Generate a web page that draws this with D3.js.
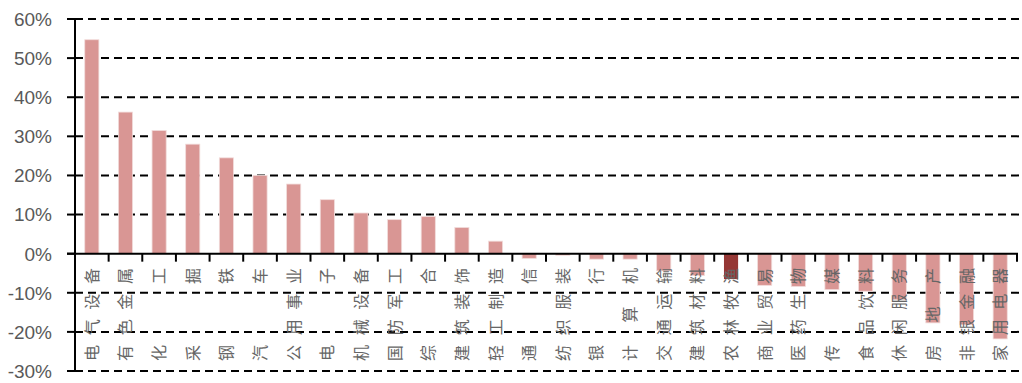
<!DOCTYPE html>
<html>
<head>
<meta charset="utf-8">
<script src="https://cdn.jsdelivr.net/npm/d3@7"></script>
<style>
  html, body { margin: 0; padding: 0; background: #fff; }
  #chart { width: 1022px; height: 383px; }
  .ytick { font-family: "Liberation Sans", Arial, sans-serif; font-size: 19px; fill: #595959; }
  .xlabel { font-family: "Noto Sans CJK SC", sans-serif; font-size: 16px; fill: #666; }
</style>
</head>
<body>
<div id="chart"></div>
<script>
const CATEGORIES = [
  "电气设备", "有色金属", "化工", "采掘", "钢铁", "汽车", "公用事业", "电子",
  "机械设备", "国防军工", "综合", "建筑装饰", "轻工制造", "通信", "纺织服装", "银行",
  "计算机", "交通运输", "建筑材料", "农林牧渔", "商业贸易", "医药生物", "传媒", "食品饮料",
  "休闲服务", "房地产", "非银金融", "家用电器",
];
const VALUES = [
  0.547, 0.362, 0.315, 0.280, 0.245, 0.200, 0.178, 0.138,
  0.104, 0.087, 0.095, 0.067, 0.032, -0.012, -0.004, -0.014,
  -0.014, -0.044, -0.056, -0.065, -0.081, -0.084, -0.092, -0.096,
  -0.118, -0.177, -0.182, -0.218,
];
const HIGHLIGHT = "农林牧渔";
const Y_TICKS = [-0.3, -0.2, -0.1, 0, 0.1, 0.2, 0.3, 0.4, 0.5, 0.6];

const COLOR_BAR = "#d99694";
const COLOR_HIGHLIGHT = "#953735";

const width = 1022;
const height = 383;
const plot = { left: 75, right: 1017, top: 19, bottom: 371 };

const svg = d3.select("#chart").append("svg")
  .attr("width", width)
  .attr("height", height);

const x = d3.scaleBand()
  .domain(CATEGORIES)
  .range([plot.left, plot.right])
  .paddingInner(0.58)
  .paddingOuter(0.29);

const y = d3.scaleLinear().domain([-0.3, 0.6]).range([plot.bottom, plot.top]);

// dashed gridlines + short solid tick marks on the left
const grid = svg.append("g");
Y_TICKS.filter((t) => t !== 0).forEach((t) => {
  grid.append("line")
    .attr("x1", plot.left).attr("x2", width)
    .attr("y1", y(t)).attr("y2", y(t))
    .attr("stroke", "#000").attr("stroke-width", 2)
    .attr("stroke-dasharray", "8,5");
});
grid.selectAll(".ytickmark").data(Y_TICKS).join("line")
  .attr("x1", plot.left - 8).attr("x2", plot.left)
  .attr("y1", (d) => y(d)).attr("y2", (d) => y(d))
  .attr("stroke", "#000").attr("stroke-width", 2);

// bars
svg.append("g").selectAll("rect").data(CATEGORIES).join("rect")
  .attr("x", (d) => x(d))
  .attr("width", x.bandwidth())
  .attr("y", (d, i) => y(Math.max(0, VALUES[i])))
  .attr("height", (d, i) => Math.abs(y(VALUES[i]) - y(0)))
  .attr("fill", (d) => (d === HIGHLIGHT ? COLOR_HIGHLIGHT : COLOR_BAR))
  .attr("stroke", (d) => (d === HIGHLIGHT ? "none" : "#f2dcdb"))
  .attr("stroke-width", 0.8);

// y axis line
svg.append("line")
  .attr("x1", plot.left).attr("x2", plot.left)
  .attr("y1", plot.top).attr("y2", plot.bottom)
  .attr("stroke", "#000").attr("stroke-width", 2);

// zero line with category ticks
svg.append("line")
  .attr("x1", plot.left - 8).attr("x2", plot.right + 1)
  .attr("y1", y(0)).attr("y2", y(0))
  .attr("stroke", "#000").attr("stroke-width", 2);

const step = x.step();
svg.append("g").selectAll("line").data(CATEGORIES).join("line")
  .attr("x1", (d) => x(d) + x.bandwidth() / 2 + step / 2)
  .attr("x2", (d) => x(d) + x.bandwidth() / 2 + step / 2)
  .attr("y1", y(0)).attr("y2", y(0) + 8)
  .attr("stroke", "#000").attr("stroke-width", 2);

// y tick labels
svg.append("g").selectAll("text").data(Y_TICKS).join("text")
  .attr("class", "ytick")
  .attr("x", 52)
  .attr("y", (d) => y(d))
  .attr("dy", "0.36em")
  .attr("text-anchor", "end")
  .text((d) => `${Math.round(d * 100)}%`);

// vertical category labels (rotated, reading upward), spread over the same length
const fontSize = 16;
const labelTop = 268;
const labelBottom = 361;
svg.append("g").selectAll("text").data(CATEGORIES).join("text")
  .attr("class", "xlabel")
  .attr("transform", (d) => `translate(${x(d) + x.bandwidth() / 2 + 6},${labelBottom}) rotate(-90)`)
  .attr("x", 0)
  .attr("y", 0)
  .style("letter-spacing", (d) => {
    const n = d.length;
    return n > 1 ? `${(labelBottom - labelTop - n * fontSize) / (n - 1)}px` : "0px";
  })
  .text((d) => d);
</script>
</body>
</html>
